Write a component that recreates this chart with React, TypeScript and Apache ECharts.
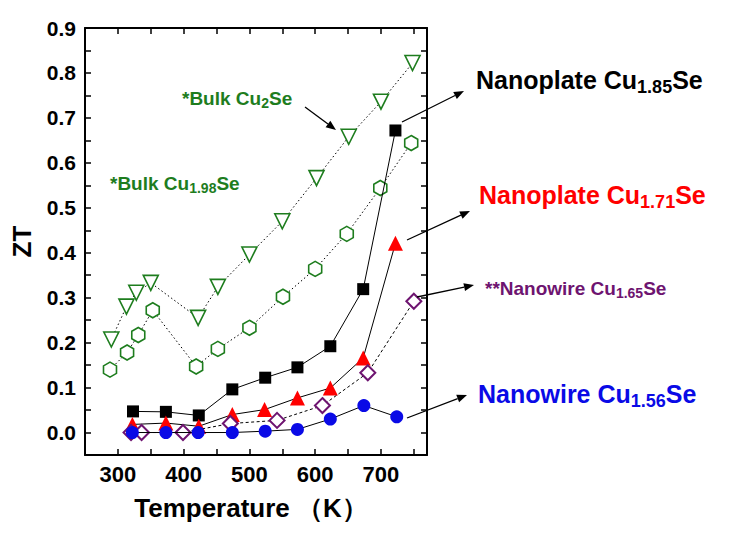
import React, { useEffect, useRef } from "react";
import * as echarts from "echarts";

const FONT = "'Liberation Sans', Arial, sans-serif";

// Temperature (K) and ZT values
const bulkCu2SeT = [290, 313, 328, 350, 422, 452, 500, 550, 602, 651, 700, 748];
const bulkCu2SeZT = [0.207, 0.28, 0.311, 0.333, 0.255, 0.324, 0.396, 0.47, 0.566, 0.658, 0.736, 0.822];

const bulkCu198SeT = [288, 314, 331, 353, 419, 452, 500, 551, 600, 648, 699, 746];
const bulkCu198SeZT = [0.14, 0.178, 0.217, 0.272, 0.147, 0.186, 0.233, 0.302, 0.364, 0.442, 0.544, 0.644];

const plateCu185SeT = [323, 373, 423, 474, 524, 573, 623, 673, 722];
const plateCu185SeZT = [0.047, 0.046, 0.038, 0.096, 0.122, 0.145, 0.192, 0.319, 0.672];

const plateCu171SeT = [322, 373, 423, 474, 523, 573, 623, 673, 722];
const plateCu171SeZT = [0.018, 0.021, 0.014, 0.04, 0.051, 0.077, 0.099, 0.166, 0.421];

const wireCu165SeT = [320, 336, 399, 471, 542, 611, 680, 750];
const wireCu165SeZT = [0.0, 0.0, 0.0, 0.02, 0.027, 0.06, 0.133, 0.292];

const wireCu156SeT = [322, 373, 422, 474, 524, 573, 623, 674, 724];
const wireCu156SeZT = [0.0, 0.0, 0.0, 0.0, 0.003, 0.007, 0.03, 0.06, 0.035];

const xTitle = "Temperature （K）";
const yTitle = "ZT";

const GREEN = "#1e7d1e";
const PURPLE = "#6e1470";
const BLUE = "#0a0ae6";
const RED = "#ff0000";

const zip = (xs: number[], ys: number[]) => xs.map((x, i) => [x, ys[i]]);

function arrow(x1: number, y1: number, x2: number, y2: number) {
  const dx = x2 - x1;
  const dy = y2 - y1;
  const len = Math.hypot(dx, dy);
  const ux = dx / len;
  const uy = dy / len;
  const hl = 10;
  const hw = 4;
  const bx = x2 - ux * hl;
  const by = y2 - uy * hl;
  return [
    { type: "line", shape: { x1, y1, x2: bx, y2: by }, style: { stroke: "#000", lineWidth: 1.3 }, z: 100 },
    {
      type: "polygon",
      shape: { points: [[x2, y2], [bx - uy * hw, by + ux * hw], [bx + uy * hw, by - ux * hw]] },
      style: { fill: "#000" },
      z: 100,
    },
  ];
}

function label(
  x: number,
  y: number,
  pre: string,
  sub: string,
  post: string,
  color: string,
  size: number,
  subSize: number,
  offset: number
) {
  return {
    type: "text",
    x,
    y,
    z: 100,
    style: {
      text: `{a|${pre}}{b|${sub}}{a|${post}}`,
      align: "left",
      verticalAlign: "middle",
      rich: {
        a: { fontSize: size, fontWeight: "bold", fontFamily: FONT, fill: color, lineHeight: size + 2 },
        b: {
          fontSize: subSize,
          fontWeight: "bold",
          fontFamily: FONT,
          fill: color,
          lineHeight: subSize,
          padding: [offset * 2, 0, 0, 0],
        },
      },
    },
  };
}

export default function App() {
  const ref = useRef<HTMLDivElement>(null);
  useEffect(() => {
    if (!ref.current) return;
    const chart = echarts.init(ref.current, undefined, { renderer: "svg" });
    const axisLine = { onZero: false, lineStyle: { color: "#000", width: 2 } };
    const axisTick = { inside: true, length: 6, lineStyle: { color: "#000", width: 1.5 } };
    const option = {
      animation: false,
      backgroundColor: "#fff",
      grid: { left: 85, right: 302, top: 28, bottom: 89 },
      xAxis: [
        {
          type: "value",
          min: 250,
          max: 770,
          interval: 50,
          position: "bottom",
          axisLine,
          axisTick,
          splitLine: { show: false },
          axisLabel: {
            formatter: (v: number) => (Math.round(v) % 100 === 0 ? String(Math.round(v)) : ""),
            color: "#000",
            fontSize: 22,
            fontWeight: "bold",
            fontFamily: FONT,
            margin: 8,
          },
          name: xTitle,
          nameLocation: "middle",
          nameGap: 40,
          nameTextStyle: {
            color: "#000",
            fontSize: 26,
            fontWeight: "bold",
            fontFamily: FONT,
            padding: [0, 10, 0, 0],
          },
        },
        {
          type: "value",
          min: 250,
          max: 770,
          interval: 50,
          position: "top",
          axisLine,
          axisTick,
          splitLine: { show: false },
          axisLabel: { show: false },
        },
      ],
      yAxis: [
        {
          type: "value",
          min: -0.05,
          max: 0.9,
          interval: 0.05,
          position: "left",
          axisLine,
          axisTick,
          splitLine: { show: false },
          axisLabel: {
            formatter: (v: number) => (Math.round(v * 100) % 10 === 0 ? v.toFixed(1) : ""),
            color: "#000",
            fontSize: 21,
            fontWeight: "bold",
            fontFamily: FONT,
            margin: 9,
          },
          name: yTitle,
          nameLocation: "middle",
          nameGap: 50,
          nameTextStyle: { color: "#000", fontSize: 26, fontWeight: "bold", fontFamily: FONT },
        },
        {
          type: "value",
          min: -0.05,
          max: 0.9,
          interval: 0.05,
          position: "right",
          axisLine,
          axisTick,
          splitLine: { show: false },
          axisLabel: { show: false },
        },
      ],
      series: [
        {
          name: "*Bulk Cu2Se",
          type: "line",
          data: zip(bulkCu2SeT, bulkCu2SeZT),
          symbol: "triangle",
          symbolRotate: 180,
          symbolSize: 15,
          showAllSymbol: true,
          lineStyle: { color: "#000", width: 1, type: [1.5, 2.5] },
          itemStyle: { color: "#fff", borderColor: GREEN, borderWidth: 1.6 },
          z: 2,
        },
        {
          name: "*Bulk Cu1.98Se",
          type: "line",
          data: zip(bulkCu198SeT, bulkCu198SeZT),
          symbol: "path://M0,-10L8.66,-5L8.66,5L0,10L-8.66,5L-8.66,-5Z",
          symbolKeepAspect: true,
          symbolSize: 15,
          showAllSymbol: true,
          lineStyle: { color: "#000", width: 1, type: [1.5, 2.5] },
          itemStyle: { color: "#fff", borderColor: GREEN, borderWidth: 1.6 },
          z: 2,
        },
        {
          name: "Nanoplate Cu1.85Se",
          type: "line",
          data: zip(plateCu185SeT, plateCu185SeZT),
          symbol: "rect",
          symbolSize: 12,
          showAllSymbol: true,
          lineStyle: { color: "#000", width: 1 },
          itemStyle: { color: "#000" },
          z: 3,
        },
        {
          name: "Nanoplate Cu1.71Se",
          type: "line",
          data: zip(plateCu171SeT, plateCu171SeZT),
          symbol: "triangle",
          symbolSize: 15,
          showAllSymbol: true,
          lineStyle: { color: "#000", width: 1 },
          itemStyle: { color: RED },
          z: 4,
        },
        {
          name: "**Nanowire Cu1.65Se",
          type: "line",
          data: zip(wireCu165SeT, wireCu165SeZT),
          symbol: "diamond",
          symbolSize: 15,
          showAllSymbol: true,
          lineStyle: { color: "#000", width: 1, type: [3, 2.5] },
          itemStyle: { color: "#fff", borderColor: PURPLE, borderWidth: 2 },
          z: 5,
        },
        {
          name: "Nanowire Cu1.56Se",
          type: "line",
          data: zip(wireCu156SeT, wireCu156SeZT),
          symbol: "circle",
          symbolSize: 13,
          showAllSymbol: true,
          lineStyle: { color: "#000", width: 1 },
          itemStyle: { color: BLUE },
          z: 6,
        },
      ],
      graphic: [
        label(476, 80, "Nanoplate Cu", "1.85", "Se", "#000", 25, 18, 7),
        label(479, 195, "Nanoplate Cu", "1.71", "Se", RED, 25, 18, 7),
        label(485, 288, "**Nanowire Cu", "1.65", "Se", PURPLE, 19, 14, 5),
        label(478, 394, "Nanowire Cu", "1.56", "Se", BLUE, 25, 18, 7),
        label(182, 98, "*Bulk Cu", "2", "Se", GREEN, 19, 14, 5),
        label(110, 183, "*Bulk Cu", "1.98", "Se", GREEN, 19, 14, 5),
        ...arrow(402, 122, 464, 91),
        ...arrow(407, 240, 470, 211),
        ...arrow(417, 297, 474, 285),
        ...arrow(407, 418, 467, 395),
        ...arrow(305, 107, 336, 130),
      ],
    };
    chart.setOption(option as any);
    return () => chart.dispose();
  }, []);
  return (
    <div
      ref={ref}
      style={{ position: "fixed", left: 0, top: 0, width: 729, height: 544, background: "#fff" }}
    />
  );
}
